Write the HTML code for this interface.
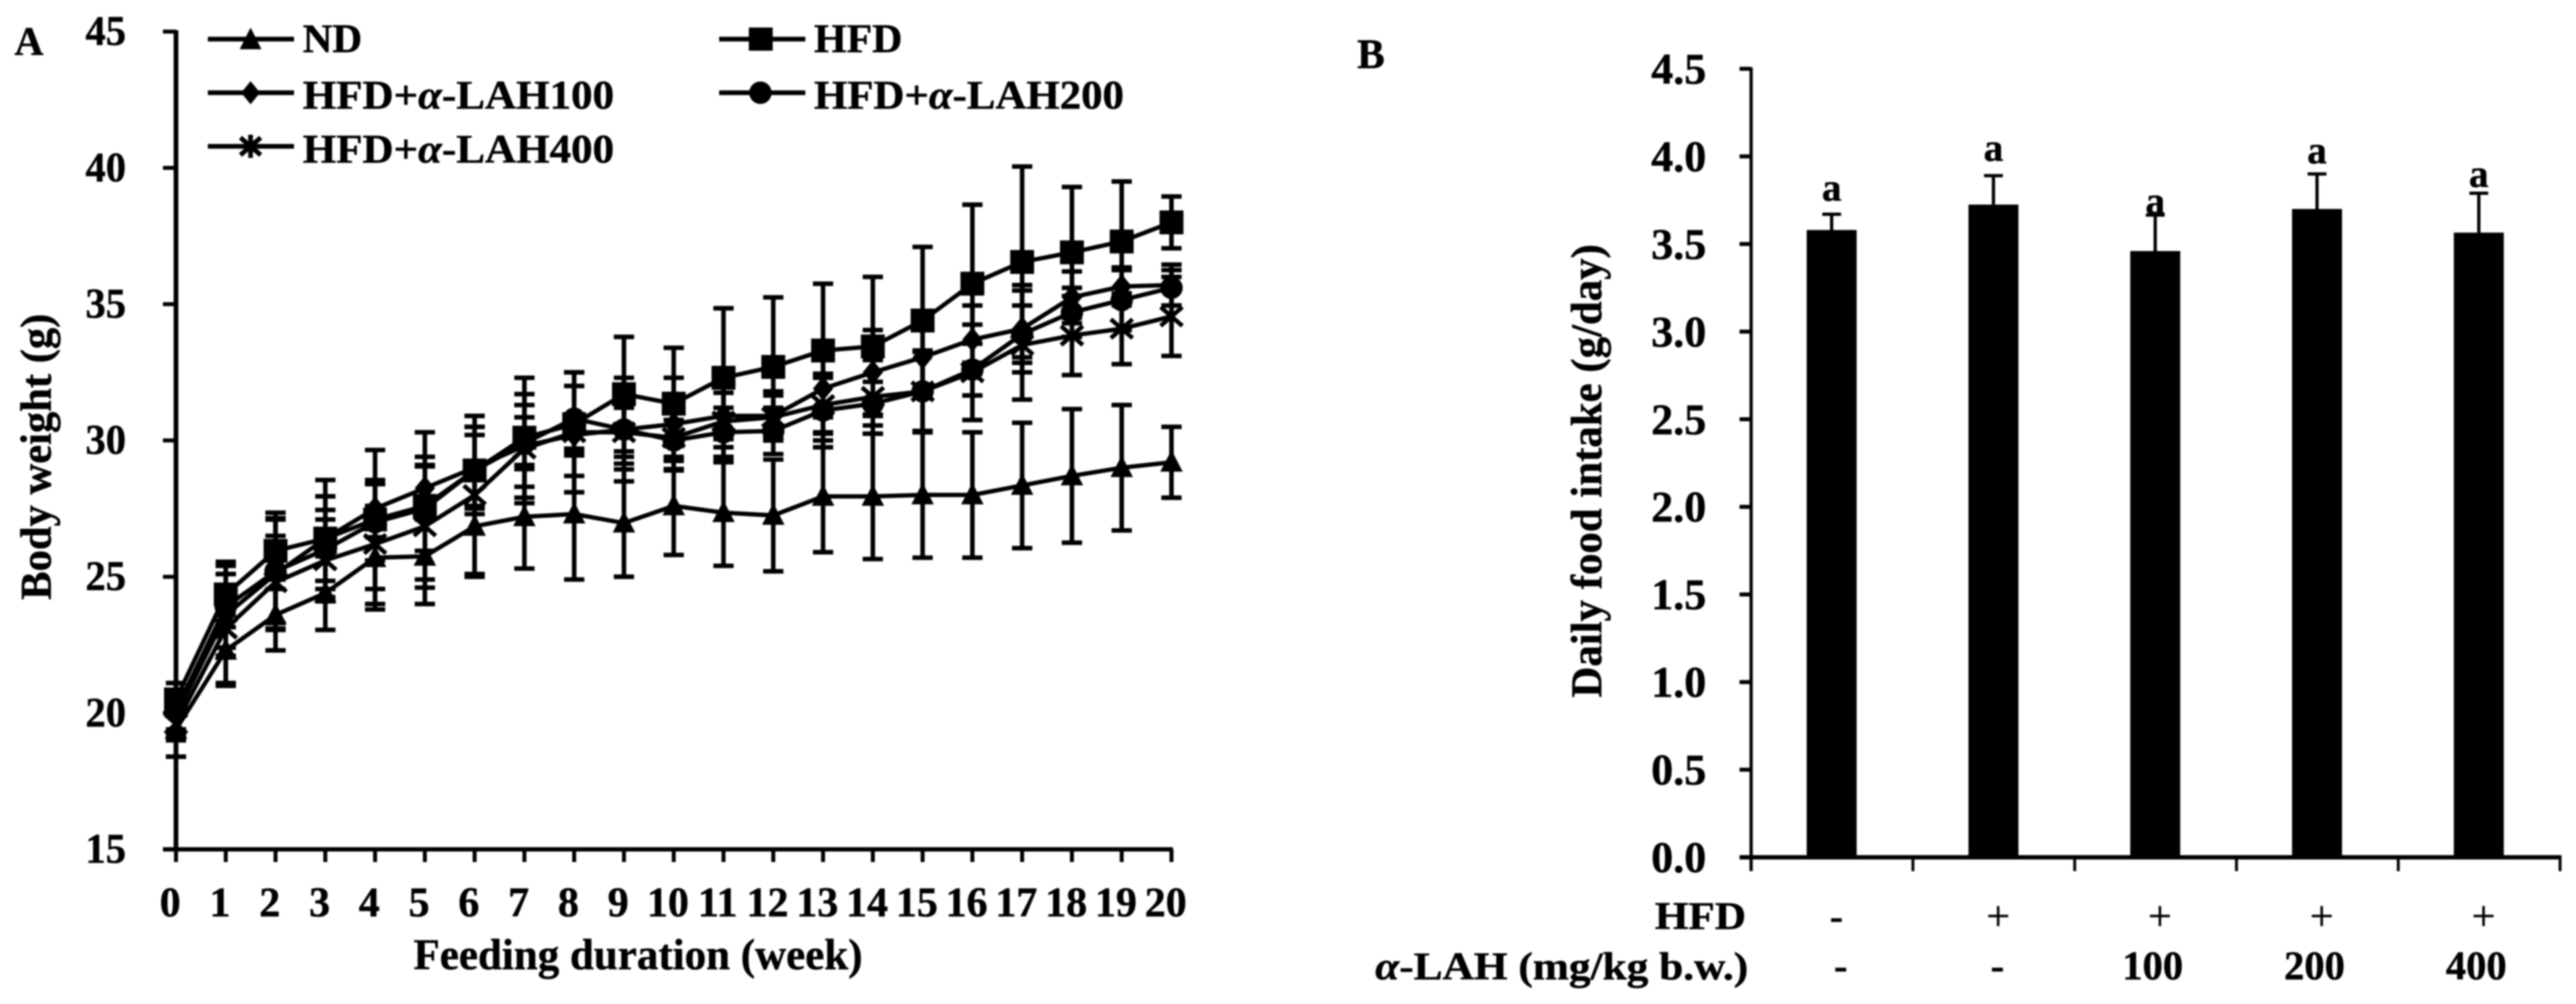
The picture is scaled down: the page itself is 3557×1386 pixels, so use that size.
<!DOCTYPE html>
<html lang="en">
<head>
<meta charset="utf-8">
<title>Body weight and daily food intake</title>
<style>
html,body{margin:0;padding:0;background:#fff;width:3557px;height:1386px;overflow:hidden}
svg{display:block;filter:blur(1px)}
text{font-family:"Liberation Serif","Times New Roman",serif;font-weight:bold;fill:#000;stroke:#000;stroke-width:.6px}
.alpha{font-style:italic}
</style>
</head>
<body>
<svg id="figure" xmlns="http://www.w3.org/2000/svg" width="3557" height="1386" viewBox="0 0 3557 1386">
  <rect x="0" y="0" width="3557" height="1386" fill="#fff"/>

  <g id="panel-a">
    <text x="20" y="76" font-size="56" textLength="40" lengthAdjust="spacingAndGlyphs">A</text>
    <text transform="translate(70,828) rotate(-90)" font-size="60" textLength="395" lengthAdjust="spacingAndGlyphs">Body weight (g)</text>
    <text x="571" y="1338" font-size="60" textLength="620" lengthAdjust="spacingAndGlyphs">Feeding duration (week)</text>
    <g id="axes-a"></g>
    <g id="series-a"></g>
    <g id="legend-a">
      <g>
        <line x1="287" y1="54" x2="406" y2="54" stroke="#000" stroke-width="6.5"/>
        <polygon points="346,38 361,68 331,68" fill="#000"/>
        <text x="418" y="72" font-size="56" textLength="82" lengthAdjust="spacingAndGlyphs">ND</text>
      </g>
      <g>
        <line x1="993" y1="54" x2="1112" y2="54" stroke="#000" stroke-width="6.5"/>
        <rect x="1034" y="38" width="33" height="32" fill="#000"/>
        <text x="1124" y="72" font-size="56" textLength="122" lengthAdjust="spacingAndGlyphs">HFD</text>
      </g>
      <g>
        <line x1="287" y1="128" x2="406" y2="128" stroke="#000" stroke-width="6.5"/>
        <polygon points="346,112 359,128 346,144 333,128" fill="#000"/>
        <text x="418" y="150" font-size="56" textLength="430" lengthAdjust="spacingAndGlyphs">HFD+<tspan class="alpha">α</tspan>-LAH100</text>
      </g>
      <g>
        <line x1="993" y1="128" x2="1112" y2="128" stroke="#000" stroke-width="6.5"/>
        <circle cx="1050" cy="128" r="15.5" fill="#000"/>
        <text x="1124" y="150" font-size="56" textLength="428" lengthAdjust="spacingAndGlyphs">HFD+<tspan class="alpha">α</tspan>-LAH200</text>
      </g>
      <g>
        <line x1="287" y1="202" x2="406" y2="202" stroke="#000" stroke-width="6.5"/>
        <path d="M346,186V218M332,190L360,214M360,190L332,214" stroke="#000" stroke-width="6.5" fill="none"/>
        <text x="418" y="224.5" font-size="56" textLength="430" lengthAdjust="spacingAndGlyphs">HFD+<tspan class="alpha">α</tspan>-LAH400</text>
      </g>
    </g>
  </g>

  <g id="panel-b">
    <text x="1874" y="94" font-size="58" textLength="38" lengthAdjust="spacingAndGlyphs">B</text>
    <text transform="translate(2211,963) rotate(-90)" font-size="60" textLength="626" lengthAdjust="spacingAndGlyphs">Daily food intake (g/day)</text>
    <g id="bars-b"></g>
    <g id="axes-b"></g>
    <text x="2285" y="1282.5" font-size="54" textLength="126" lengthAdjust="spacingAndGlyphs">HFD</text>
    <text x="1899" y="1352" font-size="54" textLength="515" lengthAdjust="spacingAndGlyphs"><tspan class="alpha">α</tspan>-LAH (mg/kg b.w.)</text>
    <g id="rows-b"></g>
  </g>
</svg>

<script>
// ---------- Panel A data ----------
const weeks = [0,1,2,3,4,5,6,7,8,9,10,11,12,13,14,15,16,17,18,19,20];
const weightTicks = [15,20,25,30,35,40,45];
const ndMean   = [19.4,22.3,23.6,24.4,25.7,25.75,26.85,27.2,27.3,26.97,27.6,27.35,27.25,27.95,27.95,28,28,28.35,28.7,29,29.2];
const ndErr    = [1,1.3,1.3,1.35,1.9,1.75,1.85,1.9,2.4,1.97,1.8,1.95,2.05,2.05,2.3,2.3,2.3,2.3,2.45,2.3,1.3];
const hfdMean  = [20.5,24.35,25.95,26.4,27.1,27.6,28.9,30.1,30.6,31.7,31.35,32.3,32.7,33.3,33.45,34.4,35.75,36.55,36.9,37.3,38];
const hfdErr   = [0.6,1.2,1.4,2.15,2.55,2.7,1.6,2.2,1.9,2.1,2.05,2.55,2.55,2.45,2.55,2.7,2.9,3.5,2.4,2.2,0.95];
const lah100Mean = [19.9,23.6,25.1,26.4,27.5,28.25,29,29.8,30.2,30.4,30.6,30.9,30.9,31.9,32.5,33.05,33.7,34.1,35.25,35.65,35.7];
const lah100Err  = [0.7,1.5,2.05,1.55,1.05,1.15,1.5,1.5,0.75,1.9,1.7,0.85,0.9,1.65,1.55,1.4,1.25,1.6,0.95,0.7,0.75];
const lah200Mean = [20.1,23.9,25.2,26,27,27.5,28.9,29.9,30.8,30.4,30,30.3,30.35,31.1,31.35,31.8,32.6,33.9,34.7,35.15,35.6];
const lah200Err  = [0.7,1.5,1.9,1.45,1.4,1.55,1.3,0.95,1.2,1.25,0.75,0.9,0.85,1.35,0.8,1.5,0.95,1.05,0.9,1.1,0.65];
const lah400Mean = [19.6,23.1,24.8,25.6,26.2,26.85,28,29.7,30.3,30.3,30.1,30.7,30.85,31.3,31.6,31.8,32.5,33.5,33.85,34.1,34.55];
const lah400Err  = [0.6,2,1.7,1.5,2.2,2.25,2.9,2,2.2,0.9,1.15,1.5,0.8,1,1.35,1.45,1.75,2,1.45,1.3,1.45];

// ---------- Panel B data ----------
const intakeTicks = ['0.0','0.5','1.0','1.5','2.0','2.5','3.0','3.5','4.0','4.5'];
const intakeMean = [3.58,3.725,3.46,3.70,3.565];
const intakeErr  = [0.09,0.165,0.205,0.20,0.225];
const intakeSig  = ['a','a','a','a','a'];
const sigOffset  = [0.167,0.25,0.21,0.26,0.261];
const hfdRow = ['-','+','+','+','+'];
const lahRow = ['-','-','100','200','400'];

// ---------- helpers ----------
const NS = 'http://www.w3.org/2000/svg';
function make(tag, attrs, parent) {
  const el = document.createElementNS(NS, tag);
  for (const k in attrs) el.setAttribute(k, attrs[k]);
  parent.appendChild(el);
  return el;
}

// ---------- Panel A scales ----------
const xA = w => 243 + (w - 0) * 68.73;
const yA = v => 1172.5 - (v - 15) * 37.63;
const axesA = document.getElementById('axes-a');
const seriesA = document.getElementById('series-a');

let yAxisA = make('line', {x1:243,y1:yA(45)-2,x2:243,y2:yA(15)+2,stroke:'#000','stroke-width':6.5}, axesA);


let xAxisA = make('line', {x1:225,y1:yA(15),x2:xA(20)+2,y2:yA(15),stroke:'#000','stroke-width':6}, axesA);



weightTicks.forEach(t => {
  const tick = make('line', {x1:225,y1:yA(t),x2:243,y2:yA(t),stroke:'#000','stroke-width':5.5}, axesA);
  
  
  const lab = make('text', {x:174,y:yA(t)+18.5,'font-size':58,'text-anchor':'end',textLength:56,lengthAdjust:'spacingAndGlyphs'}, axesA);
  lab.textContent = String(t);
  
  
});
weeks.forEach(w => {
  const tick = make('line', {x1:xA(w),y1:yA(15),x2:xA(w),y2:1190,stroke:'#000','stroke-width':5.5}, axesA);
  
  
  const lab = make('text', {x:xA(w)-8,y:1265,'font-size':58,'text-anchor':'middle'}, axesA);
  lab.textContent = String(w);
  
  
});

function markerPath(kind, cx, cy) {
  if (kind === 'triangle') return `M${cx},${cy-17}L${cx+15.5},${cy+13}L${cx-15.5},${cy+13}Z`;
  if (kind === 'square') return `M${cx-16.5},${cy-16.5}h33v33h-33Z`;
  if (kind === 'diamond') return `M${cx},${cy-17}L${cx+14},${cy}L${cx},${cy+17}L${cx-14},${cy}Z`;
  if (kind === 'circle') return `M${cx-15.5},${cy}a15.5,15.5 0 1,0 31,0a15.5,15.5 0 1,0 -31,0Z`;
  return `M${cx},${cy-17}V${cy+17}M${cx-15},${cy-13}L${cx+15},${cy+13}M${cx+15},${cy-13}L${cx-15},${cy+13}`;
}

function drawSeries(name, kind, means, errs) {
  const g = make('g', {}, seriesA);
  
  
  weeks.forEach((w, i) => {
    const x = xA(w), hi = yA(means[i] + errs[i]), lo = yA(means[i] - errs[i]);
    const bar = make('path', {d:`M${x},${hi}V${lo}M${x-14},${hi}h28M${x-14},${lo}h28`,stroke:'#000','stroke-width':6.3,fill:'none'}, g);
    
    
  });
  const pts = weeks.map((w, i) => xA(w) + ',' + yA(means[i])).join(' ');
  const line = make('polyline', {points:pts,fill:'none',stroke:'#000','stroke-width':6}, g);
  
  
  weeks.forEach((w, i) => {
    const m = make('path', {d:markerPath(kind, xA(w), yA(means[i]))}, g);
    if (kind === 'star') { m.setAttribute('fill','none'); m.setAttribute('stroke','#000'); m.setAttribute('stroke-width','6'); }
    else { m.setAttribute('fill','#000'); }
    
    
  });
}
drawSeries('nd', 'triangle', ndMean, ndErr);
drawSeries('hfd', 'square', hfdMean, hfdErr);
drawSeries('hfd-lah100', 'diamond', lah100Mean, lah100Err);
drawSeries('hfd-lah200', 'circle', lah200Mean, lah200Err);
drawSeries('hfd-lah400', 'star', lah400Mean, lah400Err);

// ---------- Panel B scales ----------
const slotB = 223.4;
const xB = i => 2418 + slotB * i;
const yB = v => 1183.5 - v * 241.9;
const barsB = document.getElementById('bars-b');
const axesB = document.getElementById('axes-b');
const rowsB = document.getElementById('rows-b');

intakeMean.forEach((v, i) => {
  const cx = xB(i + 0.5) - 0.5;
  const rect = make('rect', {x:cx-34.5,y:yB(v),width:69,height:yB(0)-yB(v),fill:'#000'}, barsB);
  
  
  const top = yB(v + intakeErr[i]);
  const err = make('path', {d:`M${cx},${yB(v)}V${top}M${cx-13},${top}h26`,stroke:'#000','stroke-width':4.5,fill:'none'}, barsB);
  
  
  const sig = make('text', {x:cx,y:yB(v + sigOffset[i]),'font-size':54,'text-anchor':'middle'}, barsB);
  sig.textContent = intakeSig[i];
  
  
});

let yAxisB = make('line', {x1:2418,y1:yB(4.5)-2,x2:2418,y2:1202,stroke:'#000','stroke-width':4.5}, axesB);


let xAxisB = make('line', {x1:2402,y1:yB(0),x2:xB(5)+2,y2:yB(0),stroke:'#000','stroke-width':6}, axesB);


intakeTicks.forEach(t => {
  const v = parseFloat(t);
  const tick = make('line', {x1:2402,y1:yB(v),x2:2418,y2:yB(v),stroke:'#000','stroke-width':5.5}, axesB);
  
  
  const lab = make('text', {x:2356,y:yB(v)+20.5,'font-size':60,'text-anchor':'end',textLength:76,lengthAdjust:'spacingAndGlyphs'}, axesB);
  lab.textContent = t;
  
  
});
for (let i = 0; i <= intakeMean.length; i++) {
  const tick = make('line', {x1:xB(i),y1:yB(0),x2:xB(i),y2:1202.6,stroke:'#000','stroke-width':4}, axesB);
  
  
}

hfdRow.forEach((s, i) => {
  const t = make('text', {x:xB(i + 0.5) + 6,y:s === '-' ? 1283 : 1284,'font-size':s === '-' ? 54 : 58,'text-anchor':'middle'}, rowsB);
  t.style.fontWeight = s === '+' ? 'normal' : 'bold';
  t.textContent = s;
  
  
});
lahRow.forEach((s, i) => {
  const t = make('text', {x:xB(i + 0.5) + (s === '-' ? (i === 0 ? 12 : 5) : -4),y:1352,'font-size':56,'text-anchor':'middle'}, rowsB);
  t.textContent = s;
  
  
});
</script>
</body>
</html>
